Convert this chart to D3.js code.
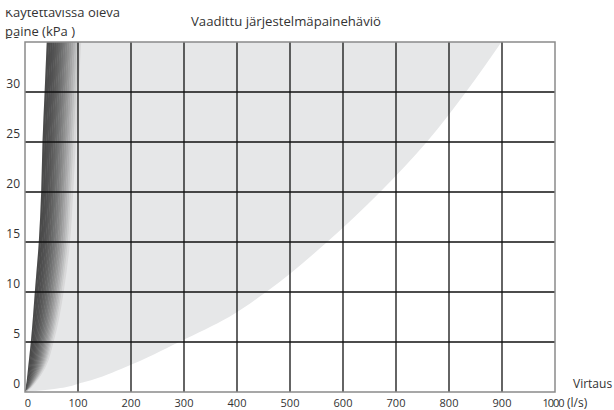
<!DOCTYPE html>
<html>
<head>
<meta charset="utf-8">
<script src="https://cdn.jsdelivr.net/npm/d3@7"></script>
<style>
  body { margin: 0; background: #fff; }
  text { font-family: "Open Sans", "Noto Sans", sans-serif; fill: #333; }
</style>
</head>
<body>
<svg id="chart" width="614" height="410"></svg>
<script>
// pressure levels (kPa) and flow (l/s)
var pressureLevels = [0, 0.3, 1, 2.5, 5, 7.5, 10, 15, 20, 25, 30, 35];
var fanLeftFlow    = [0, 1, 3, 6, 11, 15, 18.5, 26, 30.5, 33, 37, 41];
var fanRightFlow   = [0, 8, 20, 38, 53, 64, 72, 84, 90, 95, 100, 105];
var lowerCurveFlow = [0, 55, 112, 190, 291, 385, 455, 570, 670, 758, 832, 899];

var xTicks = [0, 100, 200, 300, 400, 500, 600, 700, 800, 900, 1000];
var yTicks = [0, 5, 10, 15, 20, 25, 30, 35];

var svg = d3.select("#chart");
var x = d3.scaleLinear().domain([0, 1000]).range([25, 555]);
var y = d3.scaleLinear().domain([0, 35]).range([392, 42]);

var rows = pressureLevels.map(function (p, i) {
    return { p: p, left: fanLeftFlow[i], right: fanRightFlow[i], lower: lowerCurveFlow[i] };
});

// light grey region between the fan and the lower curve
var area = d3.area()
    .y(function (d) { return y(d.p); })
    .x0(function (d) { return x(d.left); })
    .x1(function (d) { return x(d.lower); })
    .curve(d3.curveMonotoneY);
svg.append("path").attr("d", area(rows)).attr("fill", "#e6e7e8");

// dark fan, shaded in bands from left edge to right edge
var bands = 18;
var shade = d3.interpolateRgb("#4a4a4a", "#e6e7e8");
for (var b = 0; b < bands; b++) {
    var t0 = b / bands, t1 = (b + 1) / bands;
    var band = d3.area()
        .y(function (d) { return y(d.p); })
        .x0(function (d) { return x(d.left + (d.right - d.left) * t0); })
        .x1(function (d) { return x(d.left + (d.right - d.left) * t1) + 0.5; })
        .curve(d3.curveMonotoneY);
    svg.append("path").attr("d", band(rows))
        .attr("fill", shade(Math.pow(t0, 1.7)));
}

// grid
var grid = svg.append("g").attr("stroke", "#111").attr("stroke-width", 1.3);
grid.selectAll(".vx").data(xTicks.slice(1, -1)).enter().append("line")
    .attr("x1", x).attr("x2", x).attr("y1", y(0)).attr("y2", y(35));
grid.selectAll(".hy").data(yTicks.slice(1, -1)).enter().append("line")
    .attr("y1", y).attr("y2", y).attr("x1", x(0)).attr("x2", x(1000));

// frame
svg.append("rect")
    .attr("x", x(0)).attr("y", y(35))
    .attr("width", x(1000) - x(0)).attr("height", y(0) - y(35))
    .attr("fill", "none").attr("stroke", "#8a8a8a").attr("stroke-width", 1.5);

// tick labels
svg.selectAll(".xl").data(xTicks).enter().append("text")
    .attr("x", function (d) { return x(d) + (d === 0 ? 3 : d === 1000 ? -2 : 0); })
    .attr("y", 407).attr("text-anchor", "middle").attr("font-size", 11)
    .attr("letter-spacing", function (d) { return d === 1000 ? -1 : null; })
    .text(function (d) { return d; });
svg.selectAll(".yl").data(yTicks).enter().append("text")
    .attr("x", 20).attr("y", function (d) { return y(d) - 4; })
    .attr("text-anchor", "end").attr("font-size", 12)
    .text(function (d) { return d; });

// axis titles
svg.append("rect").attr("x", 0).attr("y", 0).attr("width", 125).attr("height", 37).attr("fill", "#fff");
svg.append("text").attr("x", 5).attr("y", 17).attr("font-size", 13).text("Käytettävissä oleva");
svg.append("rect").attr("x", 0).attr("y", 0).attr("width", 125).attr("height", 10).attr("fill", "#fff");
svg.append("text").attr("x", 5).attr("y", 36).attr("font-size", 13).text("paine (kPa )");
svg.append("text").attr("x", 191).attr("y", 26).attr("font-size", 13)
    .attr("textLength", 190).attr("lengthAdjust", "spacingAndGlyphs")
    .text("Vaadittu järjestelmäpainehäviö");
svg.append("text").attr("x", 573).attr("y", 388).attr("font-size", 12).text("Virtaus");
svg.append("text").attr("x", 567).attr("y", 407).attr("font-size", 12).text("(l/s)");
</script>
</body>
</html>
